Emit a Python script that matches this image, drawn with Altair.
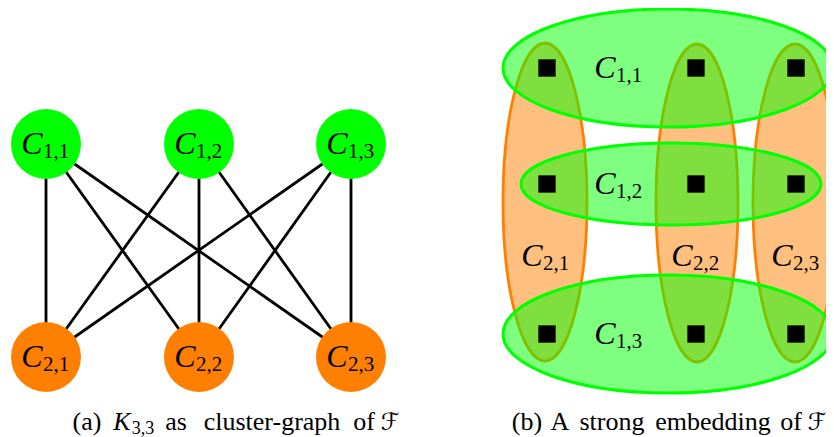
import altair as alt
import pandas as pd

# ---------------- Left panel: K_{3,3} as cluster graph ----------------
top_subs = ["1,1", "1,2", "1,3"]
bottom_subs = ["2,1", "2,2", "2,3"]
node_x = [46, 199, 351]
top_y = [144, 144, 144]
bottom_y = [357, 357, 357]

# ---------------- Right panel: strong embedding ----------------
h_subs = ["1,1", "1,2", "1,3"]
h_cx = [668, 671, 668]
h_cy = [68, 184, 334]
h_rx = [165, 150, 165]
h_ry = [59, 41, 59]

v_subs = ["2,1", "2,2", "2,3"]
v_cx = [545, 697, 795]
v_cy = [202, 203, 203]
v_rx = [42, 41, 42]
v_ry = [159, 159, 159]

sq_x = [547, 696, 796]
sq_y = [68, 184, 334]

h_label_x = [619, 619, 619]
v_label_x = [546, 696, 796]
v_label_y = [256, 256, 256]

# ---------------- Captions ----------------
cap_words = ["(a)", "as", "cluster-graph", "of", "(b)", "A", "strong", "embedding", "of"]
cap_x = [87, 176, 272, 364, 527, 560, 612, 713, 791]
cap_italic = ["K"]
cap_italic_x = [122]
cap_sub = ["3,3"]
cap_sub_x = [143]
cap_script = ["ℱ", "ℱ"]
cap_script_x = [390, 817]
cap_y = 430

GREEN = "#00FF00"
ORANGE = "#FF8000"
K = 0.5523


def h_path(k):
    return (f"M 1 0 C 1 {k*K:.4f} {K} {k:.4f} 0 {k:.4f} "
            f"C {-K} {k:.4f} -1 {k*K:.4f} -1 0 "
            f"C -1 {-k*K:.4f} {-K} {-k:.4f} 0 {-k:.4f} "
            f"C {K} {-k:.4f} 1 {-k*K:.4f} 1 0 Z")


def v_path(k):
    return (f"M 0 1 C {k*K:.4f} 1 {k:.4f} {K} {k:.4f} 0 "
            f"C {k:.4f} {-K} {k*K:.4f} -1 0 -1 "
            f"C {-k*K:.4f} -1 {-k:.4f} {-K} {-k:.4f} 0 "
            f"C {-k:.4f} {K} {-k*K:.4f} 1 0 1 Z")


# plot area = page area inside the 8px margin (818 px wide)
xs = alt.Scale(domain=[8, 826], nice=False, zero=False)
ys = alt.Scale(domain=[8, 437], nice=False, zero=False, reverse=True)


def X(f):
    return alt.X(f, type="quantitative", scale=xs, axis=None)


def Y(f):
    return alt.Y(f, type="quantitative", scale=ys, axis=None)


# data tables
edges = pd.DataFrame(
    [{"x": node_x[i], "y": top_y[i], "x2": node_x[j], "y2": bottom_y[j]}
     for i in range(3) for j in range(3)]
)
top_nodes = pd.DataFrame({"x": node_x, "y": top_y, "sub": top_subs})
bottom_nodes = pd.DataFrame({"x": node_x, "y": bottom_y, "sub": bottom_subs})

h_ell = pd.DataFrame({
    "x": h_cx, "y": h_cy,
    "shape": [h_path(ry / rx) for rx, ry in zip(h_rx, h_ry)],
    "size": [(2 * rx) ** 2 for rx in h_rx],
})
v_ell = pd.DataFrame({
    "x": v_cx, "y": v_cy,
    "shape": [v_path(rx / ry) for rx, ry in zip(v_rx, v_ry)],
    "size": [(2 * ry) ** 2 for ry in v_ry],
})
squares = pd.DataFrame([{"x": a, "y": b} for b in sq_y for a in sq_x])

labels = pd.concat([
    top_nodes, bottom_nodes,
    pd.DataFrame({"x": h_label_x, "y": h_cy, "sub": h_subs}),
    pd.DataFrame({"x": v_label_x, "y": v_label_y, "sub": v_subs}),
], ignore_index=True)

cap_df = pd.DataFrame({"x": cap_x, "y": [cap_y] * len(cap_x), "t": cap_words})
cap_it_df = pd.DataFrame({"x": cap_italic_x, "y": [cap_y], "t": cap_italic})
cap_sub_df = pd.DataFrame({"x": cap_sub_x, "y": [cap_y], "t": cap_sub})
cap_sc_df = pd.DataFrame({"x": cap_script_x, "y": [cap_y] * 2, "t": cap_script})

SERIF = "Liberation Serif"

edge_layer = alt.Chart(edges).mark_rule(color="black", strokeWidth=2.8).encode(
    x=X("x"), y=Y("y"), x2="x2", y2="y2")

top_layer = alt.Chart(top_nodes).mark_circle(color=GREEN, opacity=1, size=4900).encode(
    x=X("x"), y=Y("y"))
bottom_layer = alt.Chart(bottom_nodes).mark_circle(color=ORANGE, opacity=1, size=4900).encode(
    x=X("x"), y=Y("y"))

v_layer = alt.Chart(v_ell).mark_point(
    filled=True, fill=ORANGE, fillOpacity=0.5, stroke=ORANGE, strokeWidth=2.8,
    strokeOpacity=1, opacity=1
).encode(x=X("x"), y=Y("y"),
         shape=alt.Shape("shape:N", scale=None, legend=None),
         size=alt.Size("size:Q", scale=None, legend=None))

h_layer = alt.Chart(h_ell).mark_point(
    filled=True, fill=GREEN, fillOpacity=0.5, stroke=GREEN, strokeWidth=3,
    strokeOpacity=1, opacity=1
).encode(x=X("x"), y=Y("y"),
         shape=alt.Shape("shape:N", scale=None, legend=None),
         size=alt.Size("size:Q", scale=None, legend=None))

sq_layer = alt.Chart(squares).mark_square(color="black", opacity=1, size=300).encode(
    x=X("x"), y=Y("y"))

c_layer = alt.Chart(labels).mark_text(
    text="C", font=SERIF, fontStyle="italic", fontSize=32, align="center",
    baseline="alphabetic", dx=-14, dy=10, color="black"
).encode(x=X("x"), y=Y("y"))

sub_layer = alt.Chart(labels).mark_text(
    font=SERIF, fontSize=21, align="center", baseline="alphabetic",
    dx=10, dy=14, color="black"
).encode(x=X("x"), y=Y("y"), text="sub:N")

cap_layer = alt.Chart(cap_df).mark_text(
    font=SERIF, fontSize=26, align="center", baseline="alphabetic", color="black"
).encode(x=X("x"), y=Y("y"), text="t:N")

cap_it_layer = alt.Chart(cap_it_df).mark_text(
    font=SERIF, fontStyle="italic", fontSize=26, align="center",
    baseline="alphabetic", color="black"
).encode(x=X("x"), y=Y("y"), text="t:N")

cap_sub_layer = alt.Chart(cap_sub_df).mark_text(
    font=SERIF, fontSize=18, align="center", baseline="alphabetic", dy=4,
    color="black"
).encode(x=X("x"), y=Y("y"), text="t:N")

cap_sc_layer = alt.Chart(cap_sc_df).mark_text(
    font="DejaVu Serif, DejaVu Sans", fontSize=24, align="center",
    baseline="alphabetic", color="black"
).encode(x=X("x"), y=Y("y"), text="t:N")

chart = alt.layer(
    edge_layer, top_layer, bottom_layer,
    v_layer, h_layer, sq_layer,
    c_layer, sub_layer,
    cap_layer, cap_it_layer, cap_sub_layer, cap_sc_layer,
).properties(
    width=818, height=429, padding=0,
    autosize=alt.AutoSizeParams(type="none"),
).configure_view(stroke=None)

chart.save("out.html", embed_options={"renderer": "svg", "actions": False})
